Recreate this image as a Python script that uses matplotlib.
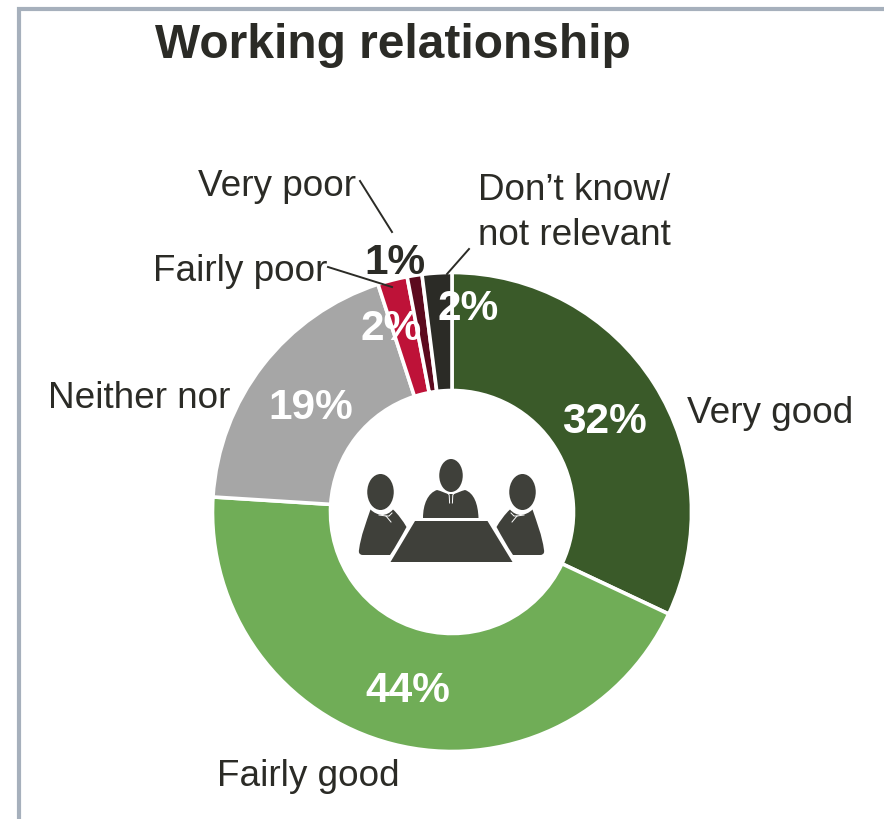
import matplotlib
matplotlib.use("Agg")
import matplotlib.pyplot as plt
from matplotlib.patches import Ellipse, PathPatch, Polygon
from matplotlib.path import Path

plt.rcParams['font.family'] = ['Liberation Sans', 'DejaVu Sans']

# Survey shares
categories = ['Very good', 'Fairly good', 'Neither nor', 'Fairly poor', 'Very poor', 'Don\u2019t know/\nnot relevant']
shares = [32, 44, 19, 2, 1, 2]
slice_colors = ['#3A5A29', '#70AD57', '#A6A6A6', '#BE1238', '#5C0A1E', '#2B2B26']
pct_colors = ['white', 'white', 'white', 'white', '#2B2B26', 'white']

# Label placement in pixels
pct_xy = [(604, 422), (408, 691), (311, 408), (391, 329), (395, 263), (468, 309)]
name_xy = [(687, 410), (217, 773), (48, 395), (153, 268), (198, 183), (478, 209)]

INK = '#2B2B26'
ICON = '#3F403A'
FRAME = '#A6B0BC'

fig = plt.figure(figsize=(8.84, 8.2), dpi=100)
ax = fig.add_axes([0, 0, 1, 1])

# y grows downward here, so increasing angle runs clockwise from the top
ax.pie(shares, colors=slice_colors, startangle=-90, counterclock=True,
       center=(452, 513), radius=239.5, frame=True,
       wedgeprops=dict(width=118, edgecolor='white', linewidth=2.6))
ax.set_xlim(0, 884)
ax.set_ylim(820, 0)
ax.axis('off')

# outer frame, open on the right and bottom
ax.plot([18.5, 18.5, 884], [820, 10, 10], color=FRAME, lw=3, solid_joinstyle='miter', clip_on=False)

ax.text(155, 46, 'Working relationship', fontsize=34.5, fontweight='bold', color=INK, ha='left', va='center')

for share, color, (x, y) in zip(shares, pct_colors, pct_xy):
    ax.text(x, y, f'{share}%', fontsize=30.5, fontweight='bold', color=color, ha='center', va='center')

for name, (x, y) in zip(categories, name_xy):
    ax.text(x, y + 4, name, fontsize=26.6, color=INK, ha='left', va='center', linespacing=1.38)

# leader lines
for xs, ys in [([360, 392], [182, 233]), ([328, 392], [268, 288]), ([469, 447], [250, 275])]:
    ax.plot(xs, ys, color=INK, lw=1.4)


# meeting icon, three people around a table
def curved(points):
    # points are a start point followed by triples of bezier handles
    codes = [Path.MOVETO] + [Path.CURVE4] * (len(points) - 1)
    return PathPatch(Path(points, codes), fc=ICON, ec='none')


for cx, cy, w, h in [(451, 476.5, 23.5, 33), (380.5, 493, 26.5, 36), (522.5, 493, 26.5, 36)]:
    ax.add_patch(Ellipse((cx, cy), w, h, fc=ICON, ec='none'))

ax.add_patch(Polygon([(415, 522), (487.5, 522), (512.5, 563), (390.5, 563)], fc=ICON, ec='none'))

# centre person torso and tie
ax.add_patch(curved([(423, 519),
                     (423, 505), (428, 494), (437, 491),
                     (441, 492), (445, 494), (448, 495),
                     (451, 495), (451, 495), (454, 495),
                     (457, 494), (461, 492), (465, 491),
                     (474, 494), (478, 505), (478.5, 519),
                     (460, 519), (441, 519), (423, 519)]))
ax.plot([447, 449.2, 449.6], [493, 496, 504], color='white', lw=0.7)
ax.plot([455, 452.8, 452.4], [493, 496, 504], color='white', lw=0.7)

# side people, the right one mirrored about the table centre
left_body = [(370.5, 510.5),
             (374, 514), (378, 515.5), (382, 516),
             (386, 516), (390, 514), (393, 510.5),
             (398, 515), (403, 522), (406.5, 528),
             (401, 538), (396, 547), (390, 556),
             (381, 556), (372, 556), (363, 556),
             (359, 556), (358.5, 553), (359, 551),
             (361, 536), (366, 524), (370.5, 510.5)]
right_body = [(903 - x, y) for x, y in left_body]
ax.add_patch(curved(left_body))
ax.add_patch(curved(right_body))
for flip in (lambda x: x, lambda x: 903 - x):
    ax.plot([flip(379), flip(386), flip(391)], [516, 517, 523], color='white', lw=0.7)
    ax.plot([flip(386), flip(389), flip(392)], [517, 517, 514], color='white', lw=0.7)

fig.savefig('out.png', dpi=100)
